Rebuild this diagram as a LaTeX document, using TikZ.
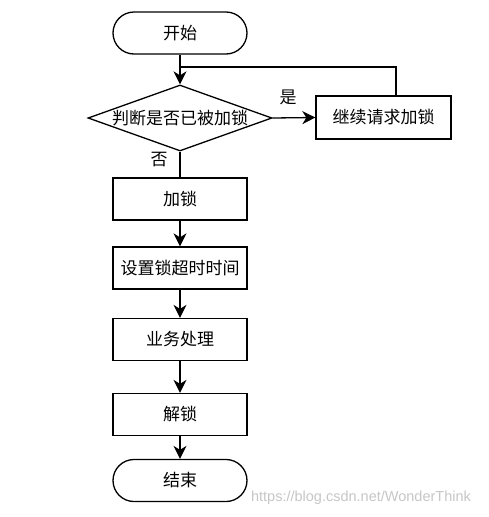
\documentclass[tikz,border=0pt]{standalone}
\usepackage{fontspec}
\newfontfamily\cjk{Noto Sans CJK SC}
\newfontfamily\wmfont{Liberation Sans}
\usetikzlibrary{arrows.meta,shapes.geometric}
\begin{document}
\begin{tikzpicture}[x=1pt,y=-1pt,
  every node/.style={font=\cjk\fontsize{17}{19}\selectfont},
  base/.style={draw=black,line width=1.3pt,fill=white,inner sep=0pt},
  term/.style={base,rectangle,rounded corners=21pt,minimum width=134pt,minimum height=42pt},
  proc/.style={base,rectangle,minimum width=134pt,minimum height=42pt},
  dec/.style={base,diamond,aspect=2.79,minimum width=184pt,minimum height=66pt},
  conn/.style={line width=1.3pt,draw=black},
  arr/.style={conn,-{Stealth[length=13pt,width=13pt,inset=4pt]}},
  lbl/.style={inner sep=0pt}
]
\useasboundingbox (0,0) rectangle (489,517);
\node[term] (start) at (180,33) {开始};
\node[dec]  (check) at (180,118) {判断是否已被加锁};
\node[proc,minimum width=135pt,minimum height=43pt] (cont) at (383.5,117.5) {继续请求加锁};
\node[proc] (lock) at (180,199) {加锁};
\node[proc] (timeout) at (180,268) {设置锁超时时间};
\node[proc] (biz) at (180,339.5) {业务处理};
\node[proc] (unlock) at (180,414.5) {解锁};
\node[term] (end) at (180,480.5) {结束};
\coordinate (join) at (180,67);
\coordinate (loopstart) at ([xshift=12.5pt]cont.north);

\draw[arr] (start.south) -- (check.north);
\draw[conn] (loopstart) |- (join);
\draw[arr] (check.east) -- (cont.west);
\draw[conn] (check.south) -- (lock.north);
\draw[arr] (lock.south) -- (timeout.north);
\draw[arr] (timeout.south) -- (biz.north);
\draw[arr] (biz.south) -- (unlock.north);
\draw[arr] (unlock.south) -- (end.north);

\node[lbl] (yes) at (288,97) {是};
\node[lbl] (no) at (159,160) {否};
\node[lbl,font=\wmfont\fontsize{14.5}{17}\selectfont,text=gray!45] (wm) at (361,498) {https://blog.csdn.net/WonderThink};
\end{tikzpicture}
\end{document}
